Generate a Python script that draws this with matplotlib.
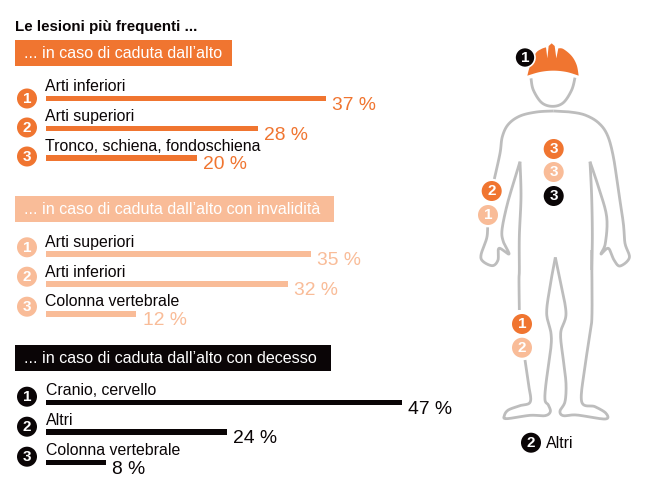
import numpy as np
import matplotlib
matplotlib.use("Agg")
import matplotlib.pyplot as plt
from matplotlib.patches import Circle, Rectangle, Polygon

plt.rcParams['font.family'] = ['Liberation Sans', 'DejaVu Sans']

ORANGE = '#F07530'
LIGHT = '#F9BC98'
BLACK = '#0A0506'
GREY = '#BDBDBD'

title = "Le lesioni più frequenti ..."
headers = ["... in caso di caduta dall’alto",
           "... in caso di caduta dall’alto con invalidità",
           "... in caso di caduta dall’alto con decesso"]
labels_a = ["Arti inferiori", "Arti superiori", "Tronco, schiena, fondoschiena"]
values_a = [37, 28, 20]
labels_b = ["Arti superiori", "Arti inferiori", "Colonna vertebrale"]
values_b = [35, 32, 12]
labels_c = ["Cranio, cervello", "Altri", "Colonna vertebrale"]
values_c = [47, 24, 8]

W, H = 650, 488
fig = plt.figure(figsize=(W / 100, H / 100), dpi=100)
ax = fig.add_axes([0, 0, 1, 1])
ax.set_xlim(0, W); ax.set_ylim(H, 0); ax.axis('off')

# percent axis: 0 % sits at x=45 px, 7.58 px per percent
X0, PX = 45.5, 7.58
bx = fig.add_axes([0, 0, 1, 1], facecolor='none')
bx.set_xlim(-X0 / PX, (W - X0) / PX); bx.set_ylim(H, 0); bx.axis('off')

ax.text(15, 26.5, title, fontsize=10.9, fontweight='bold', color=BLACK, va='center', ha='left')

groups = [
    (labels_a, values_a, ORANGE, (40, 66, 232), [98.5, 128.5, 158], [98.5, 127.5, 156.5], [86.5, 116.5, 146.5], 45),
    (labels_b, values_b, LIGHT, (196, 222, 334), [254, 284, 314], [247.3, 276.7, 306.7], [242.7, 272.3, 302], 45),
    (labels_c, values_c, BLACK, (345, 371, 331), [402.5, 432, 462.5], [396.7, 426.7, 456.7], [390.5, 420.5, 450.5], 46),
]
for (i, (labs, vals, col, box, bar_y, circ_y, lab_y, lx)) in enumerate(groups):
    ax.add_patch(Rectangle((15, box[0]), box[2] - 15, box[1] - box[0], fc=col, ec='none'))
    ax.text(24, (box[0] + box[1]) / 2 + 0.5, headers[i], fontsize=11.6, color='white', va='center', ha='left')
    bx.barh(bar_y, vals, height=5.5, left=0, color=col, linewidth=0)
    for k in range(3):
        ax.add_patch(Circle((27, circ_y[k]), 10, fc=col, ec='none'))
        ax.text(27, circ_y[k] + 0.3, str(k + 1), fontsize=11, fontweight='bold', color='white', ha='center', va='center')
        ax.text(lx, lab_y[k], labs[k], fontsize=11.4, color=BLACK, ha='left', va='center')
        bx.text(vals[k] + 0.8, bar_y[k] + 6.5, f"{vals[k]} %", fontsize=13.9, color=col, ha='left', va='center')

def z2(pts):
    return [(470 + x / 3, 30 + y / 3) for x, y in pts]
def z3(pts):
    return [(470 + x / 3, 250 + y / 3) for x, y in pts]

def smooth(pts, n=12):
    p = np.array(pts, float)
    p = np.vstack([p[0], p, p[-1]])
    out = []
    for i in range(1, len(p) - 2):
        a, b, c, d = p[i - 1], p[i], p[i + 1], p[i + 2]
        for t in np.linspace(0, 1, n, endpoint=False):
            out.append(0.5 * (2 * b + (c - a) * t + (2 * a - 5 * b + 4 * c - d) * t ** 2 + (3 * b - a - 3 * c + d) * t ** 3))
    out.append(p[-2])
    return np.array(out)

def stroke(pts):
    s = smooth(pts)
    ax.plot(s[:, 0], s[:, 1], color=GREY, lw=2.0, solid_capstyle='butt', solid_joinstyle='round')

head = z2([(183, 145), (190, 180), (215, 218), (248, 229), (280, 218), (305, 180), (315, 143)])
left_top = z2([(250, 243), (200, 246), (150, 258), (115, 283), (97, 320), (90, 370), (73, 447)])
right_arm = z2([(250, 243), (300, 246), (345, 255), (385, 278), (412, 315), (430, 380), (445, 480),
                (460, 580), (465, 640), (478, 683), (450, 708), (432, 690), (415, 655), (393, 672), (406, 640),
                (410, 560), (385, 470), (360, 395)])
left_hand = z2([(53, 592), (50, 625), (33, 675), (40, 695), (68, 707), (84, 690), (87, 655), (117, 672),
                (100, 635), (96, 600), (110, 530), (130, 460), (150, 395)])
left_in = z2([(150, 395), (153, 500), (148, 620), (148, 720)]) + z3([(147, 90), (148, 180)])
left_low = z3([(165, 330), (175, 400), (181, 455), (150, 467), (115, 480), (103, 497), (110, 506), (180, 496),
               (225, 497), (241, 485), (235, 465), (225, 450), (228, 400), (242, 300), (243, 250), (230, 190),
               (240, 110), (256, 22)])
right_low = z3([(256, 22), (270, 90), (288, 190), (272, 250), (280, 330), (288, 400), (285, 455), (270, 483),
                (280, 497), (320, 495), (405, 507), (408, 490), (375, 470), (335, 455), (345, 350), (360, 250),
                (366, 190), (365, 0)])
right_in = z2([(360, 395), (365, 500), (367, 620), (365, 720)])
for seg in (head, left_top, right_arm, left_hand, left_in, left_low, right_low, right_in):
    stroke(seg)

dome = smooth(z2([(172, 137), (180, 108), (197, 70), (214, 57), (228, 52)])).tolist()
tail = smooth(z2([(265, 55), (280, 57), (305, 78), (320, 105), (326, 137)])).tolist()
slots = z2([(232, 85), (236, 48), (245, 40), (254, 48), (259, 85)])
under = smooth(z2([(326, 137), (290, 126), (250, 122), (210, 126), (172, 137)])).tolist()
helmet = dome + slots + tail + under
ax.add_patch(Polygon(helmet, closed=True, fc=ORANGE, ec='none'))

def badge(x, y, n, col, r=10, ring=False):
    ax.add_patch(Circle((x, y), r, fc=col, ec='white' if ring else 'none', lw=1.2 if ring else 0, zorder=5))
    ax.text(x, y + 0.3, str(n), fontsize=11, fontweight='bold', color='white', ha='center', va='center', zorder=6)

badge(525, 57.5, 1, BLACK, ring=True)
badge(553.7, 149, 3, ORANGE)
badge(553.7, 172, 3, LIGHT)
badge(553.7, 196, 3, BLACK)
badge(491.7, 191, 2, ORANGE)
badge(488, 215, 1, LIGHT)
badge(522, 324, 1, ORANGE)
badge(522, 347.7, 2, LIGHT)
badge(531, 442.7, 2, BLACK)
ax.text(546, 443.5, "Altri", fontsize=11.4, color=BLACK, ha='left', va='center')

fig.savefig('out.png', dpi=100)
